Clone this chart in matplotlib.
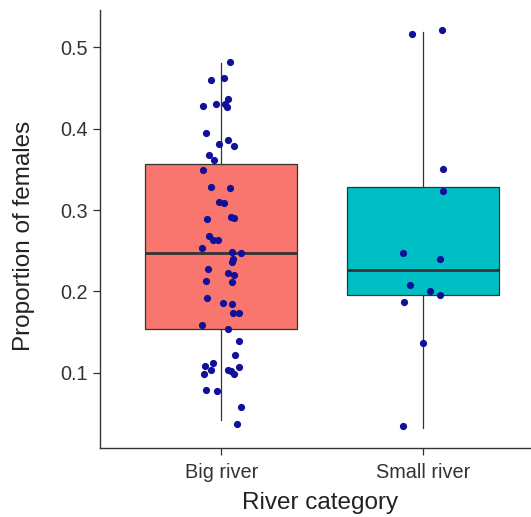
import matplotlib
matplotlib.use("Agg")
import matplotlib.pyplot as plt
import numpy as np

categories = ["Big river", "Small river"]
box_colors = ["#F8766D", "#00BFC4"]

# box statistics: whisker low, q1, median, q3, whisker high
whislo = [0.042, 0.032]
q1 = [0.154, 0.196]
med = [0.247, 0.226]
q3 = [0.357, 0.328]
whishi = [0.481, 0.519]

# jittered points (value, horizontal jitter in category units)
big_values = [0.482, 0.460, 0.462, 0.437, 0.428, 0.430, 0.431, 0.427, 0.395, 0.386,
              0.379, 0.381, 0.368, 0.362, 0.349, 0.328, 0.327, 0.310, 0.309, 0.289,
              0.292, 0.290, 0.268, 0.263, 0.263, 0.254, 0.249, 0.247, 0.240, 0.236,
              0.227, 0.223, 0.220, 0.213, 0.211, 0.192, 0.186, 0.184, 0.174, 0.173,
              0.159, 0.154, 0.139, 0.122, 0.108, 0.112, 0.103, 0.098, 0.104, 0.099,
              0.107, 0.102, 0.079, 0.077, 0.058, 0.037]
big_jitter = [0.045, -0.050, 0.016, 0.033, -0.088, -0.025, 0.020, 0.028, -0.074, 0.033,
              0.061, -0.010, -0.058, -0.038, -0.091, -0.050, 0.045, -0.010, 0.015, -0.071,
              0.048, 0.061, -0.058, -0.041, -0.018, -0.096, 0.053, 0.098, 0.058, 0.053,
              -0.063, 0.033, 0.061, -0.074, 0.053, -0.068, 0.011, 0.053, 0.058, 0.086,
              -0.096, 0.033, 0.086, 0.066, -0.079, -0.043, -0.050, -0.084, 0.033, 0.061,
              0.086, 0.050, -0.074, -0.021, 0.099, 0.078]
small_values = [0.516, 0.521, 0.350, 0.323, 0.247, 0.240, 0.208, 0.200, 0.196, 0.187,
                0.137, 0.034]
small_jitter = [-0.056, 0.094, 0.100, 0.100, -0.100, 0.081, -0.064, 0.035, 0.081, -0.094,
                -0.001, -0.100]

yticks = [0.1, 0.2, 0.3, 0.4, 0.5]
xlabel = "River category"
ylabel = "Proportion of females"

plt.rcParams["font.family"] = ["Liberation Sans", "DejaVu Sans"]

W, H = 531, 517
fig = plt.figure(figsize=(W / 100, H / 100), dpi=100)
ax = fig.add_axes([100 / W, (H - 448) / H, (W - 100) / W, (448 - 10) / H])

positions = [1, 2]
stats = []
for i in range(2):
    stats.append(dict(whislo=whislo[i], q1=q1[i], med=med[i], q3=q3[i],
                      whishi=whishi[i], fliers=[], label=categories[i]))
bp = ax.bxp(stats, positions=positions, widths=0.75, patch_artist=True,
            showcaps=False, showfliers=False,
            boxprops=dict(edgecolor="#333333", linewidth=0.9),
            medianprops=dict(color="#333333", linewidth=2.0),
            whiskerprops=dict(color="#333333", linewidth=0.9))
for patch, c in zip(bp["boxes"], box_colors):
    patch.set_facecolor(c)

pt_color = "#10109a"
ax.scatter(np.array(positions[0]) + np.array(big_jitter), big_values, s=27,
           color=pt_color, zorder=5, linewidths=0)
ax.scatter(np.array(positions[1]) + np.array(small_jitter), small_values, s=27,
           color=pt_color, zorder=5, linewidths=0)

ax.set_xlim(0.4, 0.4 + (W - 100) / 202)
ax.set_ylim(0.0075, 0.546)
ax.set_xticks(positions)
ax.set_xticklabels(categories)
ax.set_yticks(yticks)
ax.set_yticklabels([f"{v:.1f}" for v in yticks])

for s in ["top", "right"]:
    ax.spines[s].set_visible(False)
for s in ["left", "bottom"]:
    ax.spines[s].set_color("#333333")
    ax.spines[s].set_linewidth(1.0)

ax.tick_params(axis="both", direction="out", length=5, width=0.9, color="#333333",
               labelsize=14.3, labelcolor="#333333")
ax.tick_params(axis="x", pad=6)
ax.tick_params(axis="y", pad=4)

axw, axh = W - 100, 448 - 10
ax.set_xlabel(xlabel, fontsize=17.5, color="#222222", va="center", ha="center")
ax.xaxis.set_label_coords((320 - 100) / axw, (448 - 503) / axh)
ax.set_ylabel(ylabel, fontsize=17.5, color="#222222", va="center", ha="center")
ax.yaxis.set_label_coords((24 - 100) / axw, (448 - 236) / axh)

fig.savefig("out.png", dpi=100)
